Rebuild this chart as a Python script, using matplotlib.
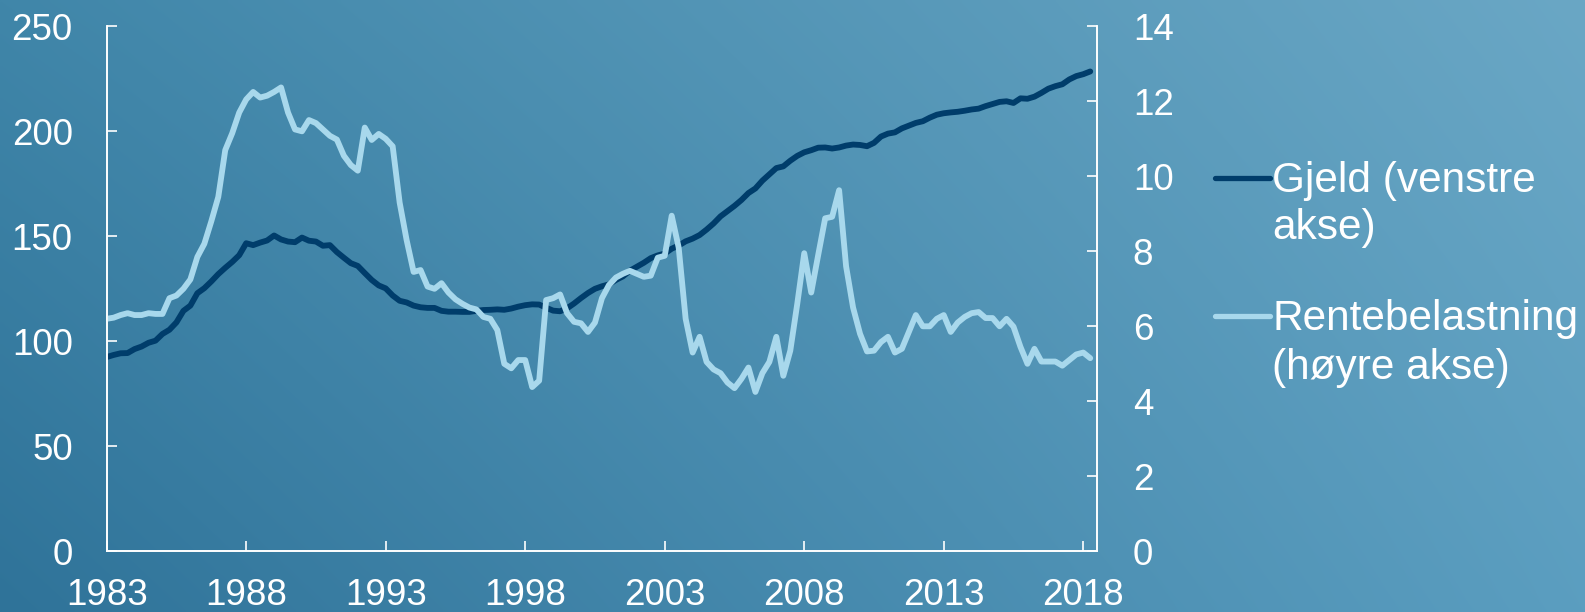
import numpy as np
import matplotlib.pyplot as plt
from matplotlib.lines import Line2D

plt.rcParams['font.family'] = ['Liberation Sans', 'DejaVu Sans']

# quarterly data, 1983 Q1 - 2018 Q2
start_year = 1983
gjeld = [92.5, 93.5, 94.3, 94.4, 96.3, 97.5, 99.3, 100.3, 103.5, 105.5,
         109.0, 114.5, 117.0, 122.9, 125.3, 128.5, 132.0, 135.0, 137.8, 141.0,
         146.7, 145.8, 147.0, 148.0, 150.4, 148.5, 147.5, 147.2, 149.4, 147.9,
         147.5, 145.5, 145.8, 142.5, 139.8, 137.2, 135.9, 132.5, 129.2, 126.6,
         125.2, 121.8, 119.3, 118.5, 117.0, 116.2, 115.9, 115.9, 114.5, 114.1,
         114.1, 114.0, 114.0, 114.5, 114.9, 115.0, 115.2, 115.0, 115.6, 116.5,
         117.2, 117.6, 117.5, 116.0, 114.6, 114.3, 115.7, 118.0, 120.6, 123.0,
         125.0, 126.2, 127.1, 129.2, 130.9, 133.6, 135.5, 137.4, 139.6, 140.9,
         141.8, 144.1, 145.6, 147.6, 148.9, 150.6, 153.2, 156.1, 159.5, 162.0,
         164.5, 167.3, 170.6, 172.8, 176.5, 179.5, 182.5, 183.3, 186.0, 188.3,
         190.0, 191.0, 192.2, 192.3, 191.8, 192.3, 193.2, 193.7, 193.5, 192.9,
         194.5, 197.5, 198.9, 199.5, 201.4, 202.7, 204.0, 204.8, 206.5, 207.9,
         208.6, 209.0, 209.3, 209.8, 210.4, 210.8, 212.0, 213.0, 214.0, 214.3,
         213.5, 215.7, 215.5, 216.5, 218.3, 220.3, 221.5, 222.4, 224.7, 226.3,
         227.2, 228.5]
rente = [6.2, 6.23, 6.3, 6.35, 6.3, 6.3, 6.35, 6.33, 6.33, 6.75,
         6.82, 7.0, 7.25, 7.85, 8.2, 8.8, 9.45, 10.7, 11.15, 11.7,
         12.05, 12.25, 12.1, 12.15, 12.25, 12.37, 11.7, 11.25, 11.2, 11.5,
         11.42, 11.25, 11.08, 10.98, 10.55, 10.3, 10.15, 11.3, 10.97, 11.13,
         11.0, 10.8, 9.3, 8.3, 7.45, 7.5, 7.06, 7.0, 7.15, 6.9,
         6.72, 6.6, 6.5, 6.45, 6.25, 6.2, 5.9, 5.0, 4.88, 5.1,
         5.1, 4.38, 4.55, 6.7, 6.75, 6.85, 6.35, 6.12, 6.08, 5.85,
         6.1, 6.75, 7.1, 7.3, 7.4, 7.48, 7.4, 7.32, 7.35, 7.83,
         7.88, 8.95, 8.1, 6.2, 5.3, 5.72, 5.05, 4.85, 4.75, 4.5,
         4.35, 4.6, 4.9, 4.25, 4.75, 5.05, 5.72, 4.68, 5.35, 6.6,
         7.95, 6.9, 7.9, 8.88, 8.92, 9.63, 7.6, 6.5, 5.8, 5.33,
         5.35, 5.58, 5.72, 5.3, 5.4, 5.85, 6.3, 6.0, 6.0, 6.2,
         6.3, 5.85, 6.1, 6.25, 6.35, 6.38, 6.22, 6.22, 6.0, 6.2,
         5.99, 5.45, 5.0, 5.4, 5.06, 5.06, 5.06, 4.95, 5.1, 5.25,
         5.3, 5.15]
years = start_year + np.arange(len(gjeld)) / 4

labels = ['Gjeld (venstre\nakse)', 'Rentebelastning\n(høyre akse)']
xticks = [1983, 1988, 1993, 1998, 2003, 2008, 2013, 2018]

dark = '#003d6b'
light = '#a8d8ec'
fs = 26.5      # tick labels
fs_leg = 30.5  # legend text

fig = plt.figure(figsize=(15.85, 6.12), dpi=100)

# gradient background
bg = fig.add_axes([0, 0, 1, 1], zorder=-10)
bl = np.array([0x2f, 0x73, 0x99]) / 255
br = np.array([0x5b, 0x9e, 0xc0]) / 255
tl = np.array([0x40, 0x86, 0xa9]) / 255
tr = np.array([0x6a, 0xa7, 0xc5]) / 255
u = np.linspace(0, 1, 400)[None, :, None]
v = np.linspace(1, 0, 160)[:, None, None]
img = (bl * (1 - u) * (1 - v) + br * u * (1 - v) + tl * (1 - u) * v + tr * u * v)
bg.imshow(img, aspect='auto', extent=[0, 1, 0, 1], interpolation='bilinear')
bg.axis('off')

ax = fig.add_axes([0.0673, 0.0992, 0.6246, 0.8578])
ax2 = ax.twinx()
for a in (ax, ax2):
    a.set_facecolor('none')
    for s in a.spines.values():
        s.set_color('white')
        s.set_linewidth(1.2)
    a.spines['top'].set_visible(False)

ax.plot(years, gjeld, color=dark, lw=4.2, solid_joinstyle='round', solid_capstyle='round')
ax2.plot(years, rente, color=light, lw=4.2, solid_joinstyle='round', solid_capstyle='round')

ax.set_xlim(1983, 2018.48)
ax.set_ylim(0, 250)
ax2.set_ylim(0, 14)
ax.set_xticks(xticks)
ax.set_yticks(np.arange(0, 251, 50))
ax2.set_yticks(np.arange(0, 15, 2))

ax.tick_params(axis='x', direction='in', length=7.5, width=1.2, color='white',
               labelcolor='white', labelsize=fs, pad=19)
ax.tick_params(axis='y', direction='in', length=7.5, width=1.2, color='white',
               labelcolor='white', labelsize=fs, pad=24.5)
ax2.tick_params(axis='y', direction='in', length=7.5, width=1.2, color='white',
                labelcolor='white', labelsize=fs, pad=26)

# legend to the right of the plot
W, H = 1585, 612
for (ly, base1, base2), col, lab in zip([(177.6, 192, 239.5), (316, 330, 378.5)],
                                        [dark, light], labels):
    fig.add_artist(Line2D([1215 / W, 1270 / W], [1 - ly / H, 1 - ly / H],
                          color=col, lw=3.8, solid_capstyle='round'))
    l1, l2 = lab.split('\n')
    fig.text(1272 / W, 1 - base1 / H, l1, color='white', fontsize=fs_leg, va='baseline')
    fig.text(1272 / W, 1 - base2 / H, l2, color='white', fontsize=fs_leg, va='baseline')

fig.savefig('out.png', dpi=100)
